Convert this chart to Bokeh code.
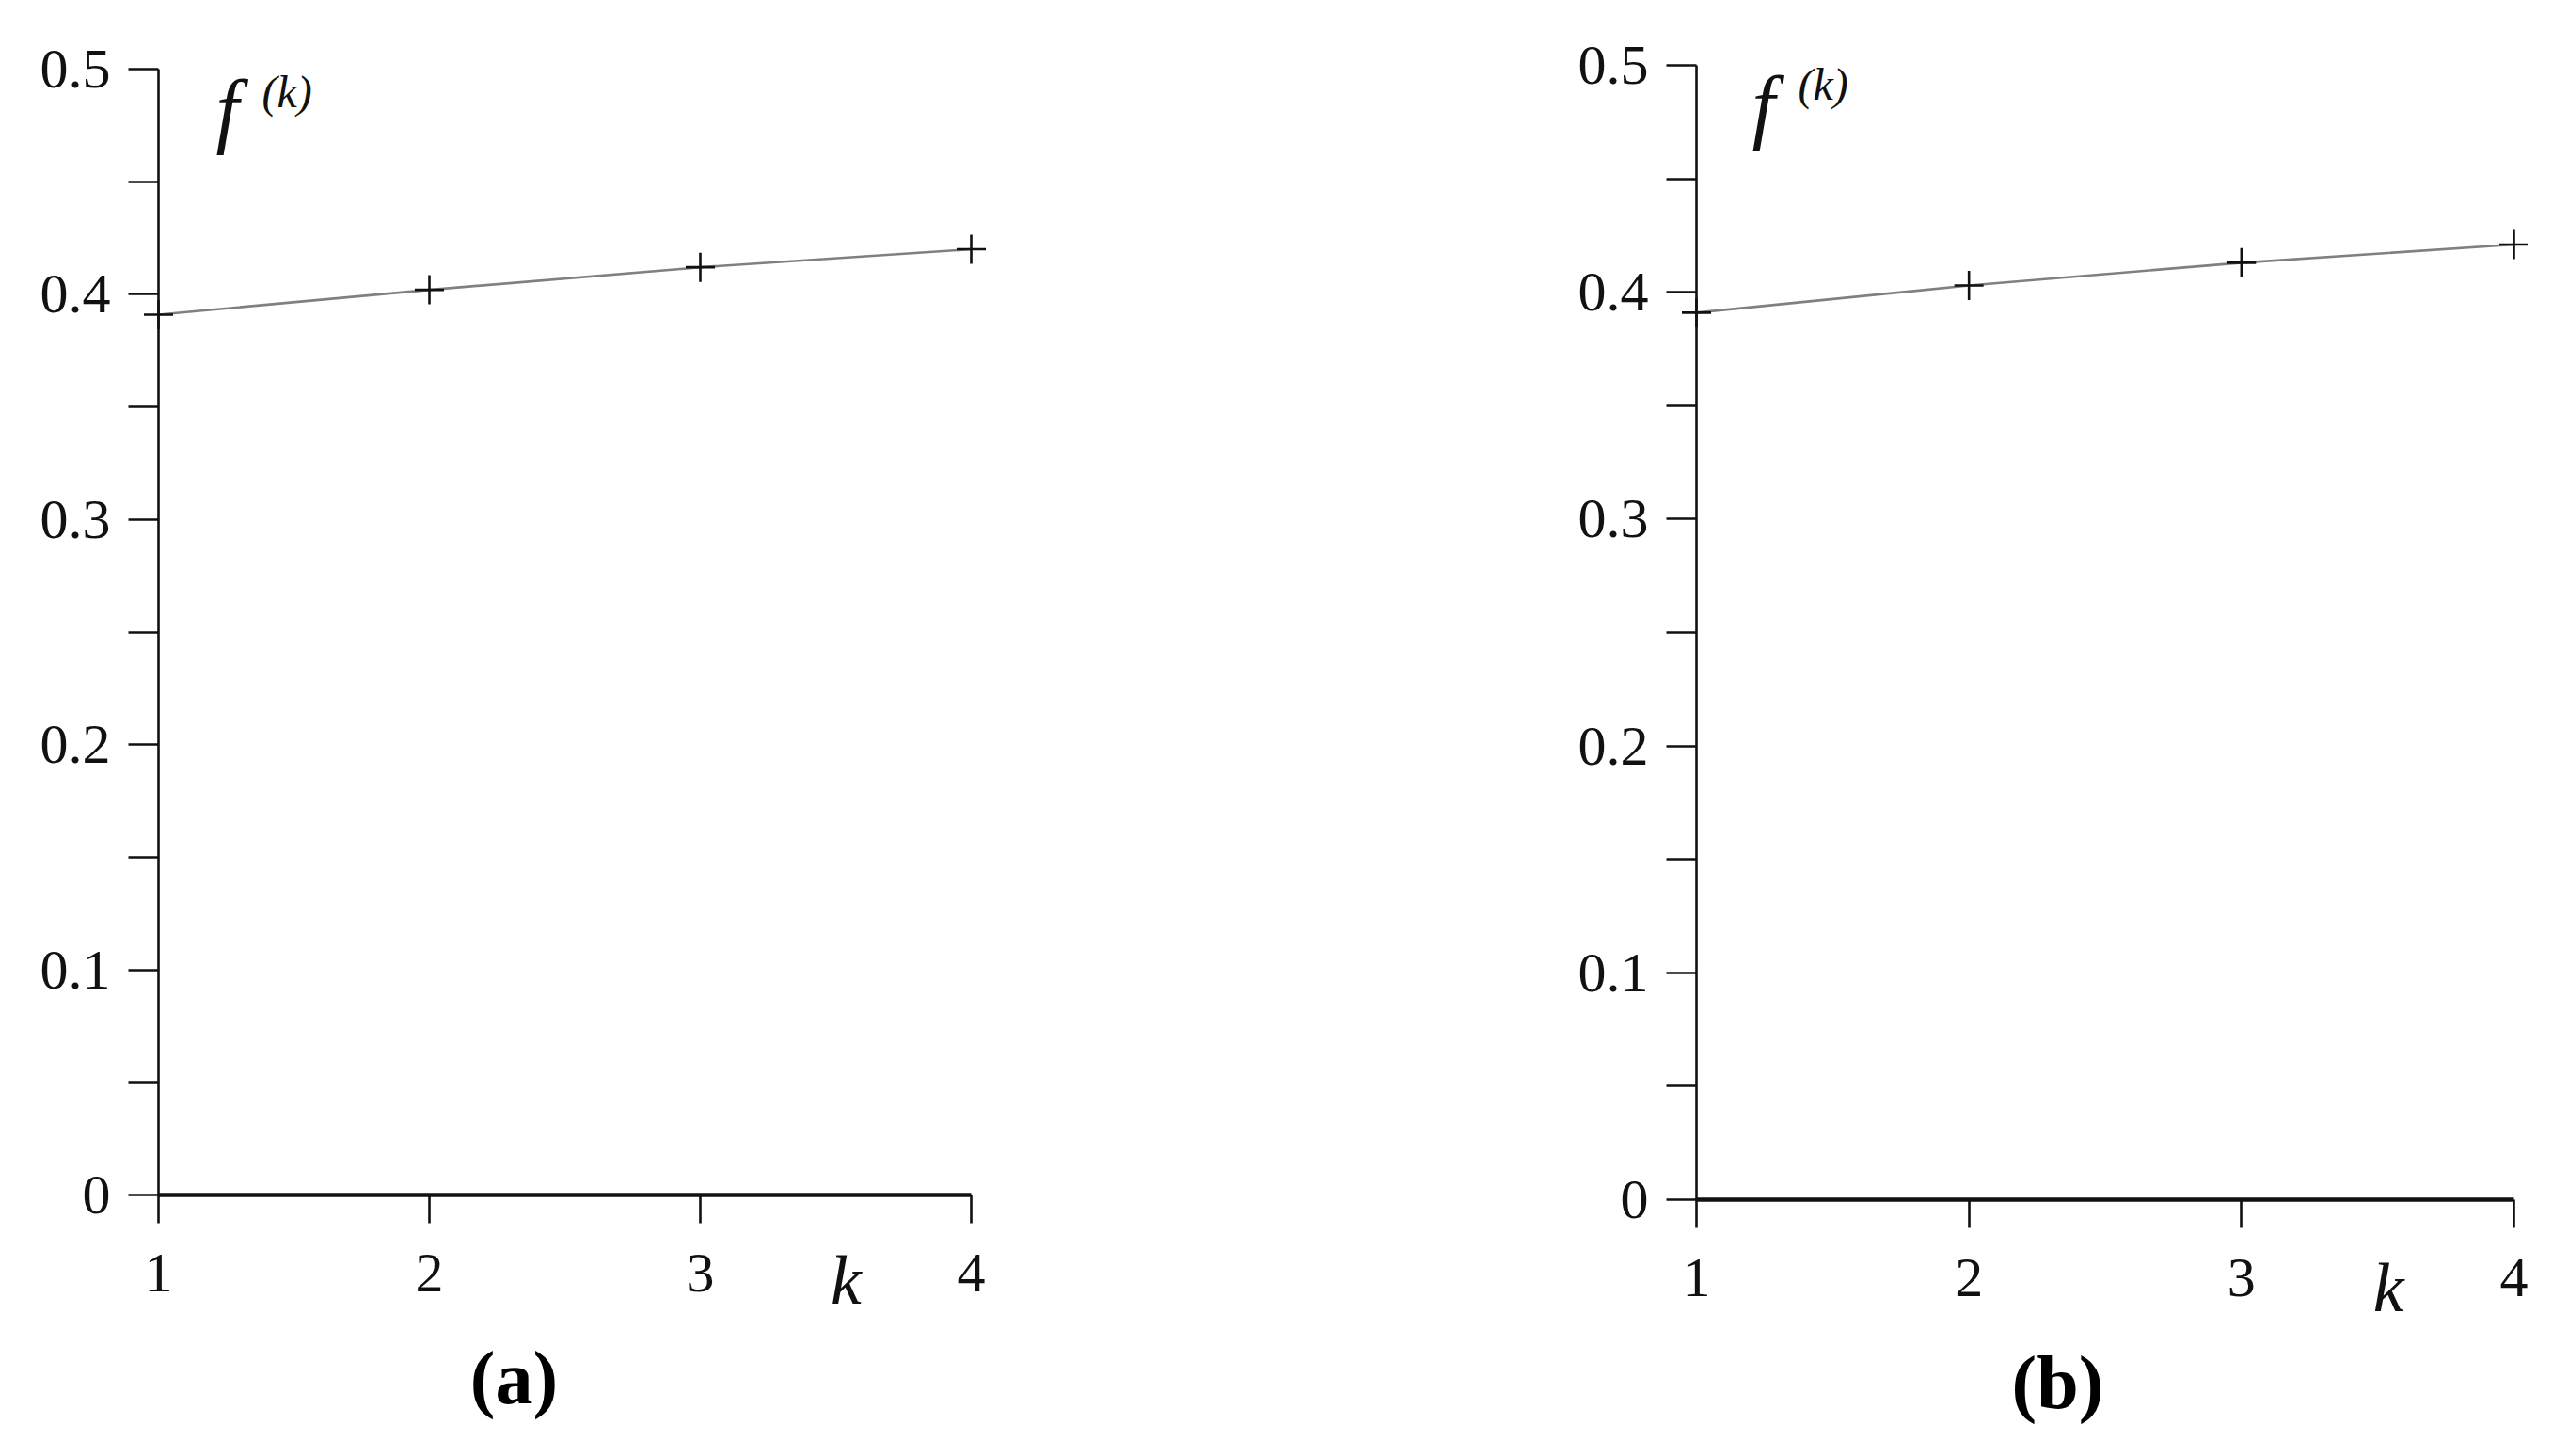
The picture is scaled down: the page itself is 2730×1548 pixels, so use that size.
from bokeh.plotting import figure
from bokeh.models import Range1d, FixedTicker, Label
from bokeh.layouts import row
from bokeh.embed import file_html
from bokeh.resources import INLINE

# ---- data ----
k_values = [1, 2, 3, 4]
f_panel_a = [0.391, 0.402, 0.412, 0.420]
f_panel_b = [0.391, 0.403, 0.413, 0.421]
x_tick_values = [1, 2, 3, 4]
y_tick_values = [0, 0.1, 0.2, 0.3, 0.4, 0.5]
y_minor_values = [round((a + b) / 2, 3) for a, b in zip(y_tick_values[:-1], y_tick_values[1:])]
panel_names = ["a", "b"]

FONT = "Liberation Serif"
FIG_W, FIG_H = 1357, 1532


def make_panel(values, name, offset_x, x1_px, x4_px, y0_px, y05_px,
               f_xy, sup_xy, k_xy, name_xy):
    # geometry: place x=1 at x1_px, x=4 at x4_px, y=0 at y0_px, y=0.5 at y05_px (page px)
    ppx = (x4_px - x1_px) / 3.0
    ppy = (y0_px - y05_px) / 0.5
    x_start = 1 + (offset_x - x1_px) / ppx
    x_end = 1 + (offset_x + FIG_W - x1_px) / ppx
    y_end = y0_px / ppy
    y_start = (y0_px - FIG_H) / ppy

    p = figure(width=FIG_W, height=FIG_H, output_backend="svg", toolbar_location=None,
               x_range=Range1d(x_start, x_end), y_range=Range1d(y_start, y_end),
               min_border=0, min_border_left=0, min_border_right=0,
               min_border_top=0, min_border_bottom=0)
    p.outline_line_color = None
    p.grid.visible = False
    p.background_fill_color = "white"
    p.border_fill_color = "white"

    # x axis
    xa = p.xaxis[0]
    xa.fixed_location = 0
    xa.ticker = FixedTicker(ticks=x_tick_values)
    xa.bounds = (1, 4)
    xa.axis_line_width = 4.5
    xa.axis_line_color = "#111111"
    xa.major_tick_line_width = 2.6
    xa.major_tick_line_color = "#111111"
    xa.major_tick_out = 30
    xa.major_tick_in = 0
    xa.minor_tick_out = 0
    xa.minor_tick_in = 0
    xa.major_label_standoff = 33
    xa.major_label_text_font = FONT
    xa.major_label_text_font_size = "60px"
    xa.major_label_text_color = "#111111"

    # y axis
    ya = p.yaxis[0]
    ya.fixed_location = 1
    ya.ticker = FixedTicker(ticks=y_tick_values, minor_ticks=y_minor_values)
    ya.bounds = (0, 0.5)
    ya.axis_line_width = 2.6
    ya.axis_line_color = "#111111"
    ya.major_tick_line_width = 2.6
    ya.minor_tick_line_width = 2.6
    ya.major_tick_line_color = "#111111"
    ya.minor_tick_line_color = "#111111"
    ya.major_tick_out = 32
    ya.major_tick_in = 0
    ya.minor_tick_out = 32
    ya.minor_tick_in = 0
    ya.major_label_standoff = 19
    ya.major_label_text_font = FONT
    ya.major_label_text_font_size = "60px"
    ya.major_label_text_color = "#111111"
    ya.major_label_overrides = {0: "0"}

    # data
    p.line(k_values, values, line_color="#808080", line_width=2.6)
    p.scatter(k_values, values, marker="cross", size=31, line_color="#111111",
              line_width=2.6)

    # labels
    p.add_layout(Label(x=f_xy[0], y=f_xy[1], text="f", text_font=FONT,
                       text_font_style="italic", text_font_size="88px",
                       text_color="#111111", text_align="left",
                       text_baseline="alphabetic"))
    p.add_layout(Label(x=sup_xy[0], y=sup_xy[1], text="(k)", text_font=FONT,
                       text_font_style="italic", text_font_size="48px",
                       text_color="#111111", text_align="left",
                       text_baseline="alphabetic"))
    p.add_layout(Label(x=k_xy[0], y=k_xy[1], text="k", text_font=FONT,
                       text_font_style="italic", text_font_size="74px",
                       text_color="#111111", text_align="center",
                       text_baseline="alphabetic"))
    p.add_layout(Label(x=name_xy[0], y=name_xy[1], text="(" + name + ")", text_font=FONT,
                       text_font_style="bold", text_font_size="80px",
                       text_color="#000000", text_align="center",
                       text_baseline="alphabetic"))
    return p


pa = make_panel(f_panel_a, panel_names[0], 0, 168, 1032, 1270, 73,
                (1.212, 0.4819), (1.382, 0.4901), (3.538, -0.038), (2.3125, -0.0814))
pb = make_panel(f_panel_b, panel_names[1], FIG_W, 1803, 2672, 1275, 69,
                (1.204, 0.4823), (1.373, 0.4917), (3.54, -0.0386), (2.3255, -0.0808))

layout = row(pa, pb)
open("out.html", "w").write(file_html(layout, INLINE))
